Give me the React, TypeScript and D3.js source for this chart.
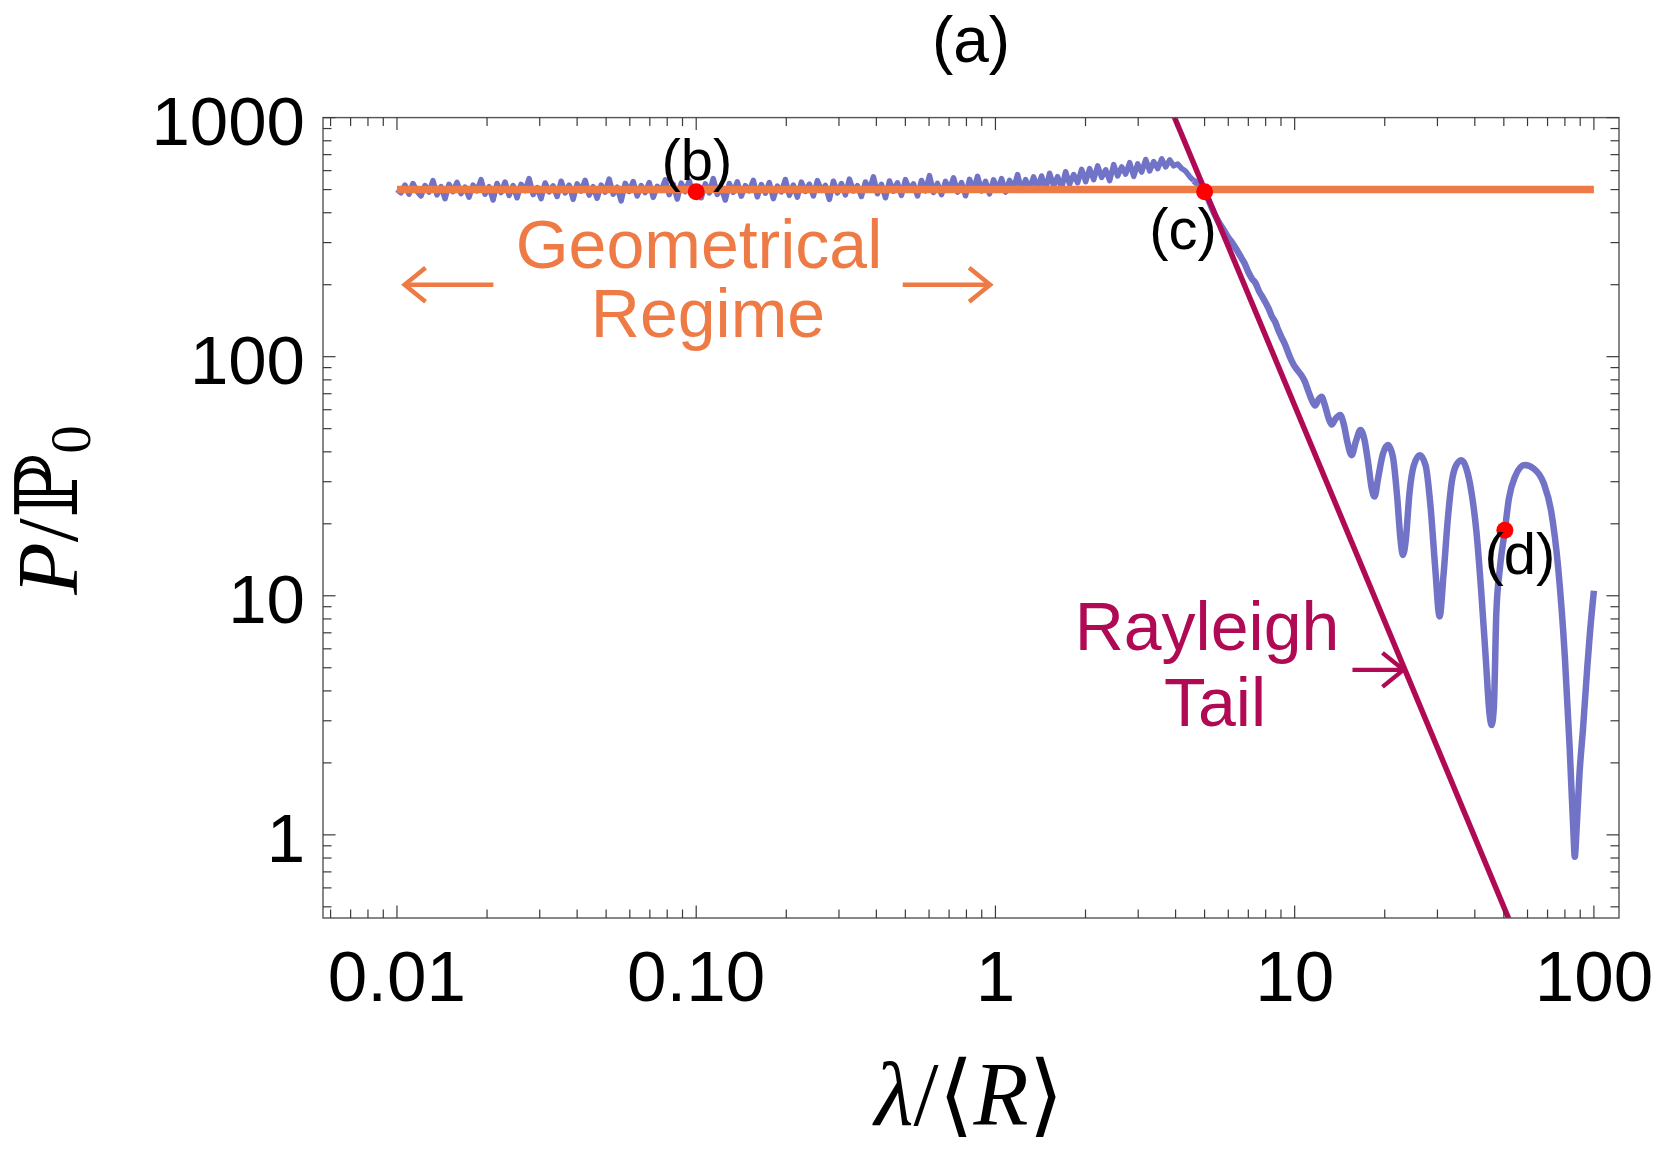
import React from 'react';
import * as d3 from 'd3';

// ---------- data ----------
const xTickValues = [0.01, 0.1, 1, 10, 100];
const xTickLabels = ['0.01', '0.10', '1', '10', '100'];
const yTickValues = [1, 10, 100, 1000];
const yTickLabels = ['1', '10', '100', '1000'];

// noisy simulated power in the geometrical regime, sampled on a log grid from 0.01 to 4.6
const geoGridStart = 0.01;
const geoGridEnd = 4.6;
const geoNoisyP = [
  500, 485, 522, 478, 530, 492, 470, 520, 488, 545,
  475, 515, 458, 526, 490, 536, 481, 512, 465, 522,
  494, 550, 478, 514, 452, 530, 486, 538, 472, 520,
  462, 526, 495, 556, 476, 510, 458, 533, 489, 518,
  468, 542, 484, 522, 455, 528, 493, 547, 474, 514,
  460, 522, 488, 553, 478, 512, 448, 531, 491, 540,
  470, 520, 486, 535, 464, 516, 496, 549, 476, 526,
  456, 532, 490, 544, 472, 515, 462, 528, 484, 556,
  477, 510, 452, 530, 487, 539, 469, 519, 494, 546,
  466, 525, 483, 535, 458, 517, 489, 551, 473, 522,
  465, 537, 491, 527, 470, 545, 496, 520, 455, 542,
  484, 530, 475, 553, 493, 519, 468, 538, 498, 565,
  480, 526, 462, 543, 492, 534, 473, 550, 500, 528,
  470, 546, 494, 572, 486, 531, 476, 541, 502, 560,
  488, 535, 471, 552, 498, 568, 493, 541, 480, 549,
  498, 556, 488, 546, 506, 578, 496, 550, 504, 565,
  508, 570, 500, 585, 518, 566, 507, 594, 526, 578, 534, 608,
  540, 612, 550, 628, 562, 605, 545, 636, 570, 622,
  580, 648, 568, 640, 592, 668, 598, 655, 612,
  672, 622, 665, 628, 640, 612, 596, 566, 545,
];

// simulated power beyond the crossover (Rayleigh side)
const tailLambda = [
  4.8, 5.0, 5.2, 5.4, 5.6, 5.8, 6.0, 6.2, 6.4, 6.6, 6.8, 7.0, 7.2, 7.4, 7.6, 7.8, 8.0, 8.2, 8.4, 8.6, 8.8, 9.0,
  9.3, 9.6, 9.9, 10.2, 10.5, 10.8, 11.1, 11.4, 11.7, 12.0, 12.3, 12.6, 13.0, 13.3, 13.7, 14.2, 14.6, 15.0,
  15.5, 16.0, 16.6, 17.1, 17.6, 18.1, 18.5, 19.0, 19.7, 20.5, 21.3, 22.0, 22.6, 23.0, 23.5, 24.2, 25.0,
  26.2, 27.4, 28.5, 29.5, 30.5, 31.4, 32.5, 33.5, 34.8, 36.1, 37.5, 39.0, 40.5, 42.0, 43.5, 44.8, 45.5,
  46.3, 47.2, 48.5, 50.4, 52.0, 54.5, 58.7, 63, 68, 72, 76, 80, 83, 85.5, 86.3, 87.5, 89.5, 92, 95, 97, 100,
];
const tailP = [
  520, 490, 440, 395, 362, 338, 315, 298, 280, 262, 246, 226, 212, 203, 188, 178, 168, 158, 147, 140, 130, 122,
  112, 101, 93, 88, 84, 79, 72, 66, 62.5, 66, 68, 63, 55, 52, 55, 57, 52, 44,
  38.7, 44, 49.3, 45, 36, 28, 26, 31, 39, 42.7, 38, 26, 17, 14.8, 17, 27, 35,
  38.7, 35, 23, 13, 8.2, 12, 21, 30, 35.5, 36.9, 34, 27, 18.5, 10.5, 5.5, 3.2, 2.88,
  3.4, 8.5, 13, 18.8, 25.5, 31.5, 35.2, 34, 29.5, 22.5, 13, 5.5, 2.3, 1.0, 0.81, 1.05, 1.8, 2.8, 5.0, 7.0, 10.5,
];

const geometricLambda = [0.01, 100];
const geometricP = [500, 500];
const rayleighLambda = [3.5, 60];
const rayleighP = [1458, 0.289];

const markerLabels = ['(b)', '(c)', '(d)'];
const markerLambda = [0.1, 5.0, 50.4];
const markerP = [490, 490, 18.8];

// ---------- layout ----------
const W = 1661;
const H = 1163;
const F = { left: 323, right: 1619, top: 117.6, bottom: 918 };
const xDomain = [0.00566, 121.3];
const yDomain = [0.449, 1000];

const BLUE = '#7173C6';
const ORANGE = '#EE7B45';
const MAGENTA = '#B10A55';
const SANS = '"Liberation Sans", Arial, Helvetica, sans-serif';
const SERIF = '"Liberation Serif", "DejaVu Serif", "Times New Roman", serif';

function minorTicks(domain: number[]) {
  const out: { v: number; major: boolean }[] = [];
  for (let d = -4; d <= 4; d++) {
    for (let k = 1; k <= 9; k++) {
      const v = k * Math.pow(10, d);
      if (v >= domain[0] * 0.9999 && v <= domain[1] * 1.0001) out.push({ v, major: k === 1 });
    }
  }
  return out;
}

function Arrow({ x1, x2, y, color }: { x1: number; x2: number; y: number; color: string }) {
  const dir = Math.sign(x2 - x1);
  const hl = 21;
  const hw = 17;
  return (
    <g stroke={color} strokeWidth={4.4} fill="none" strokeLinecap="butt">
      <line x1={x1} y1={y} x2={x2 - dir * 1.5} y2={y} />
      <polyline points={`${x2 - dir * hl},${y - hw} ${x2},${y} ${x2 - dir * hl},${y + hw}`} />
    </g>
  );
}

export default function App() {
  const x = d3.scaleLog().domain(xDomain).range([F.left, F.right]);
  const y = d3.scaleLog().domain(yDomain).range([F.bottom, F.top]);

  const n = geoNoisyP.length;
  const l0 = Math.log10(geoGridStart);
  const l1 = Math.log10(geoGridEnd);
  const geoPoints: [number, number][] = geoNoisyP.map((p, i) => [
    Math.pow(10, l0 + (i * (l1 - l0)) / (n - 1)),
    p,
  ]);
  const tailPoints: [number, number][] = [geoPoints[n - 1]];
  tailLambda.forEach((l, i) => tailPoints.push([l, tailP[i]]));

  const smooth = d3
    .line<[number, number]>()
    .x((d) => x(d[0]))
    .y((d) => y(d[1]))
    .curve(d3.curveMonotoneX);
  const straight = d3
    .line<[number, number]>()
    .x((d) => x(d[0]))
    .y((d) => y(d[1]));

  const xt = minorTicks(xDomain);
  const yt = minorTicks(yDomain);
  const MAJ = 12.5;
  const MIN = 8.5;
  const tickColor = '#3a3a3a';

  return (
    <svg
      width={W}
      height={H}
      viewBox={`0 0 ${W} ${H}`}
      style={{ position: 'absolute', left: 0, top: 0, background: '#fff' }}
    >
      <defs>
        <clipPath id="plotclip">
          <rect x={F.left} y={F.top} width={F.right - F.left} height={F.bottom - F.top} />
        </clipPath>
      </defs>
      <rect x={0} y={0} width={W} height={H} fill="#fff" />

      {/* title */}
      <text x={971} y={62} textAnchor="middle" fontFamily={SANS} fontSize={64} fill="#000">
        (a)
      </text>

      {/* data */}
      <g clipPath="url(#plotclip)">
        <path d={straight(geoPoints) || ''} fill="none" stroke={BLUE} strokeWidth={5.5} strokeLinejoin="round" />
        <path d={smooth(tailPoints) || ''} fill="none" stroke={BLUE} strokeWidth={6.5} strokeLinejoin="round" />
        <path
          d={straight(geometricLambda.map((l, i) => [l, geometricP[i]]) as [number, number][]) || ''}
          fill="none"
          stroke={ORANGE}
          strokeWidth={7.5}
        />
        <path
          d={straight(rayleighLambda.map((l, i) => [l, rayleighP[i]]) as [number, number][]) || ''}
          fill="none"
          stroke={MAGENTA}
          strokeWidth={5.5}
        />
        {markerLambda.map((l, i) => (
          <circle key={i} cx={x(l)} cy={y(markerP[i])} r={8.5} fill="#FF0000" />
        ))}
      </g>

      {/* frame */}
      <rect
        x={F.left}
        y={F.top}
        width={F.right - F.left}
        height={F.bottom - F.top}
        fill="none"
        stroke="#555"
        strokeWidth={1.4}
      />
      <g stroke={tickColor} strokeWidth={1.2}>
        {xt.map((t, i) => {
          const px = x(t.v);
          const len = t.major ? MAJ : MIN;
          return (
            <g key={'xt' + i}>
              <line x1={px} x2={px} y1={F.bottom} y2={F.bottom - len} />
              <line x1={px} x2={px} y1={F.top} y2={F.top + len} />
            </g>
          );
        })}
        {yt.map((t, i) => {
          const py = y(t.v);
          const len = t.major ? MAJ : MIN;
          return (
            <g key={'yt' + i}>
              <line x1={F.left} x2={F.left + len} y1={py} y2={py} />
              <line x1={F.right} x2={F.right - len} y1={py} y2={py} />
            </g>
          );
        })}
      </g>

      {/* tick labels */}
      <g fontFamily={SANS} fill="#000">
        {xTickValues.map((v, i) => (
          <text key={'xl' + i} x={x(v)} y={1001} textAnchor="middle" fontSize={71}>
            {xTickLabels[i]}
          </text>
        ))}
        {yTickValues.map((v, i) => (
          <text key={'yl' + i} x={305} y={y(v) + 27} textAnchor="end" fontSize={69}>
            {yTickLabels[i]}
          </text>
        ))}
      </g>

      {/* axis titles */}
      <text x={969} y={1125} textAnchor="middle" fontFamily={SERIF} fontSize={90} fill="#000">
        <tspan fontStyle="italic">λ</tspan>
        <tspan>/⟨</tspan>
        <tspan fontStyle="italic">R</tspan>
        <tspan>⟩</tspan>
      </text>
      <text
        transform="translate(77,510) rotate(-90)"
        textAnchor="middle"
        fontFamily={SERIF}
        fontSize={86}
        fill="#000"
      >
        <tspan fontStyle="italic">P</tspan>
        <tspan>/ℙ</tspan>
        <tspan fontSize={57} dy={13}>
          0
        </tspan>
      </text>

      {/* marker labels */}
      <g fontFamily={SANS} fontSize={58} fill="#000" textAnchor="middle">
        <text x={697} y={180}>{markerLabels[0]}</text>
        <text x={1183} y={249}>{markerLabels[1]}</text>
        <text x={1520} y={574}>{markerLabels[2]}</text>
      </g>

      {/* annotations */}
      <g fontFamily={SANS} fontSize={68} fill={ORANGE} textAnchor="middle">
        <text x={699} y={268}>Geometrical</text>
        <text x={708} y={337}>Regime</text>
      </g>
      <Arrow x1={x(0.021)} x2={x(0.0106)} y={y(200)} color={ORANGE} />
      <Arrow x1={x(0.49)} x2={x(0.96)} y={y(200)} color={ORANGE} />

      <g fontFamily={SANS} fontSize={68} fill={MAGENTA} textAnchor="middle">
        <text x={1207} y={650}>Rayleigh</text>
        <text x={1215} y={726}>Tail</text>
      </g>
      <Arrow x1={x(15.6)} x2={x(23.1)} y={y(4.9)} color={MAGENTA} />
    </svg>
  );
}
